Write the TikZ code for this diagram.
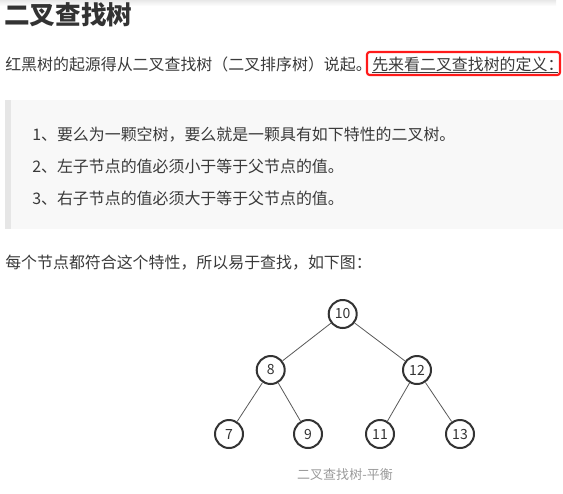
\documentclass[tikz,border=0pt]{standalone}
\usepackage{fontspec}
\setmainfont{Noto Sans CJK SC}
\usepackage{tikz}
\usetikzlibrary{arrows.meta}
\definecolor{textgray}{HTML}{3A3A3A}
\definecolor{titlegray}{HTML}{333333}
\definecolor{quotebg}{HTML}{F8F8F8}
\definecolor{quotebar}{HTML}{E6E6E6}
\definecolor{markred}{HTML}{FF1A1A}
\definecolor{capgray}{HTML}{9A9A9A}

\begin{document}
\begin{tikzpicture}[x=0.75pt, y=-0.75pt,
	bodytext/.style={anchor=west, inner sep=0pt, text=textgray, font=\fontsize{11.95}{14}\selectfont},
	treenode/.style={circle, draw=titlegray, line width=1.5pt, fill=white, minimum size=21pt, inner sep=0pt, text=titlegray, font=\fontsize{10.5}{12}\selectfont},
	treeedge/.style={draw=gray!70!black, line width=0.6pt}]
	\useasboundingbox (0,0) rectangle (563,493);
	\shade[top color=gray!18, bottom color=white] (0,0) rectangle (556,6);
	\node[anchor=west, inner sep=0pt, text=titlegray, font=\fontsize{19.2}{22}\selectfont\bfseries] (title) at (4,15) {二叉查找树};
	\node[bodytext] (intro) at (5,64) {红黑树的起源得从二叉查找树（二叉排序树）说起。};
	\node[bodytext] (def) at (372,64) {先来看二叉查找树的定义：};
	\draw[textgray, line width=0.6pt] (372,72) -- (558,72);
	\draw[markred, line width=1.6pt, rounded corners=2pt] (367,52) rectangle (560,75);
	% blockquote
	\fill[quotebg] (5,100) rectangle (563,229);
	\fill[quotebar] (5,100) rectangle (11,229);
	\node[bodytext] (rule1) at (32,135) {1、要么为一颗空树，要么就是一颗具有如下特性的二叉树。};
	\node[bodytext] (rule2) at (32,166.5) {2、左子节点的值必须小于等于父节点的值。};
	\node[bodytext] (rule3) at (32,198) {3、右子节点的值必须大于等于父节点的值。};
	\node[bodytext] (every) at (5,263) {每个节点都符合这个特性，所以易于查找，如下图：};
	% tree
	\node[treenode] (n10) at (342.7,314) {10};
	\node[treenode] (n8) at (270.7,370) {8};
	\node[treenode] (n12) at (417,370) {12};
	\node[treenode] (n7) at (229,434) {7};
	\node[treenode] (n9) at (308,434) {9};
	\node[treenode] (n11) at (380,434) {11};
	\node[treenode] (n13) at (460,434) {13};
	\draw[treeedge] (n10) -- (n8);
	\draw[treeedge] (n10) -- (n12);
	\draw[treeedge] (n8) -- (n7);
	\draw[treeedge] (n8) -- (n9);
	\draw[treeedge] (n12) -- (n11);
	\draw[treeedge] (n12) -- (n13);
	\node[inner sep=0pt, text=capgray, font=\fontsize{9.75}{12}\selectfont] (caption) at (345,475) {二叉查找树-平衡};
\end{tikzpicture}
\end{document}
